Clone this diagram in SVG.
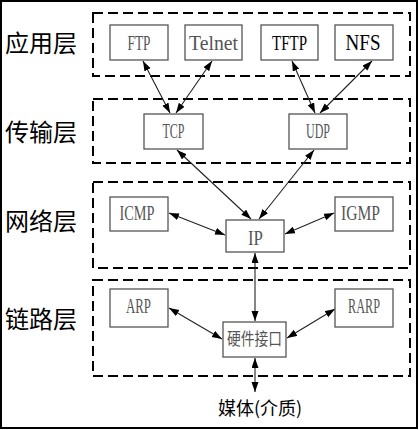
<svg xmlns="http://www.w3.org/2000/svg" width="419" height="430" viewBox="0 0 419 430">
<style>
.layer{fill:none;stroke:#000;stroke-width:2;stroke-dasharray:10,5}
.node rect{fill:#fff;stroke:#555;stroke-width:1.3}
.t{font-family:"Liberation Serif","Times New Roman",serif;font-size:22px;fill:#555;text-anchor:middle}
.k{font-family:"Liberation Serif","Noto Sans CJK SC",serif;font-size:17px;fill:#555;text-anchor:middle}
.lab{font-family:"Noto Sans CJK SC",sans-serif;font-size:24px;fill:#000}
.conn line{stroke:#222;stroke-width:1.1;marker-start:url(#ah);marker-end:url(#ah)}
</style>
<defs>
<marker id="ah" markerUnits="userSpaceOnUse" markerWidth="11" markerHeight="8" refX="10" refY="3.5" orient="auto-start-reverse">
<path d="M0,0 L10,3.5 L0,7 z" fill="#000"/>
</marker>
</defs>
<rect x="1" y="1" width="416" height="427" fill="#fff" stroke="#000" stroke-width="2"/>
<g id="layers">
<rect class="layer" x="93" y="13" width="317" height="63"/>
<rect class="layer" x="93" y="99" width="317" height="64"/>
<rect class="layer" x="93" y="182" width="317" height="86"/>
<rect class="layer" x="93" y="280" width="317" height="96"/>
</g>
<g id="labels">
<text class="lab" x="5" y="52">应用层</text>
<text class="lab" x="5" y="141">传输层</text>
<text class="lab" x="5" y="230">网络层</text>
<text class="lab" x="5" y="328">链路层</text>
</g>
<g class="conn" id="connectors">
<line x1="143" y1="61" x2="170" y2="113"/>
<line x1="212" y1="61" x2="176" y2="113"/>
<line x1="292" y1="61" x2="315" y2="113"/>
<line x1="372" y1="61" x2="320" y2="113"/>
<line x1="177" y1="150" x2="251" y2="219"/>
<line x1="314" y1="150" x2="259" y2="219"/>
<line x1="169" y1="213" x2="225" y2="235"/>
<line x1="334" y1="213" x2="285" y2="234"/>
<line x1="255" y1="253" x2="255" y2="321"/>
<line x1="169" y1="308" x2="222" y2="339"/>
<line x1="335" y1="309" x2="287" y2="338"/>
<line x1="255" y1="358" x2="255" y2="392"/>
</g>
<g class="node" id="ftp"><rect x="110" y="25" width="58" height="35"/><text class="t" x="139" y="50" textLength="23" lengthAdjust="spacingAndGlyphs">FTP</text></g>
<g class="node" id="telnet"><rect x="185" y="25" width="57" height="35"/><text class="t" x="213.5" y="50" textLength="49" lengthAdjust="spacingAndGlyphs">Telnet</text></g>
<g class="node" id="tftp"><rect x="261" y="25" width="57" height="35"/><text class="t" x="289.5" y="50" textLength="35" lengthAdjust="spacingAndGlyphs" style="fill:#000">TFTP</text></g>
<g class="node" id="nfs"><rect x="335" y="25" width="58" height="35"/><text class="t" x="363" y="50" textLength="35" lengthAdjust="spacingAndGlyphs" style="fill:#000;font-size:23px">NFS</text></g>
<g class="node" id="tcp"><rect x="144" y="114" width="59" height="35"/><text class="t" x="173.5" y="138" textLength="22" lengthAdjust="spacingAndGlyphs" style="font-size:21px">TCP</text></g>
<g class="node" id="udp"><rect x="289" y="114" width="58" height="35"/><text class="t" x="318" y="138" textLength="24" lengthAdjust="spacingAndGlyphs" style="font-size:21px">UDP</text></g>
<g class="node" id="icmp"><rect x="110" y="197" width="58" height="34"/><text class="t" x="137" y="220" textLength="35" lengthAdjust="spacingAndGlyphs" style="font-size:21px">ICMP</text></g>
<g class="node" id="ip"><rect x="226" y="220" width="58" height="32"/><text class="t" x="255.5" y="245" textLength="15" lengthAdjust="spacingAndGlyphs" style="font-size:21px">IP</text></g>
<g class="node" id="igmp"><rect x="335" y="197" width="58" height="34"/><text class="t" x="360.5" y="220" textLength="39" lengthAdjust="spacingAndGlyphs" style="font-size:21px">IGMP</text></g>
<g class="node" id="arp"><rect x="110" y="289" width="58" height="38"/><text class="t" x="138.5" y="313" textLength="25" lengthAdjust="spacingAndGlyphs" style="font-size:21px">ARP</text></g>
<g class="node" id="rarp"><rect x="335" y="289" width="58" height="38"/><text class="t" x="364" y="313" textLength="32" lengthAdjust="spacingAndGlyphs" style="font-size:21px">RARP</text></g>
<g class="node" id="hw"><rect x="223" y="322" width="63" height="35"/><text class="k" x="254.5" y="345" textLength="55" lengthAdjust="spacingAndGlyphs">硬件接口</text></g>
<g id="media"><text x="260" y="415" style="font-family:'Noto Sans CJK SC',sans-serif;font-size:18px;fill:#000;text-anchor:middle">媒体(介质)</text></g>
</svg>
